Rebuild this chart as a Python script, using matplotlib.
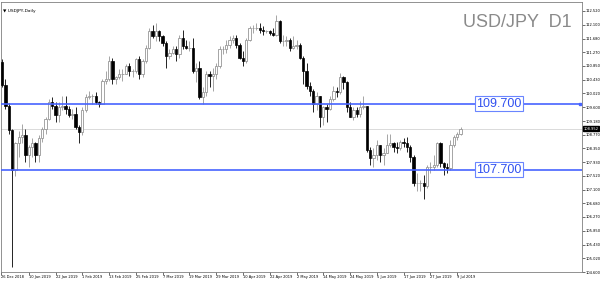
import numpy as np
import matplotlib.pyplot as plt

# USDJPY daily, 28 Dec 2018 .. 10 Jul 2019 (bar index = trading day)
opens = [110.98, 110.28, 109.65, 108.90, 107.70, 108.50, 108.70, 108.75, 108.15, 108.40,
         108.50, 108.15, 108.65, 108.95, 109.25, 109.75, 109.65, 109.35, 109.60, 109.65,
         109.55, 109.35, 109.40, 109.00, 108.85, 109.50, 109.90, 109.95, 109.95, 109.75,
         109.70, 110.40, 110.45, 111.00, 110.45, 110.50, 110.60, 110.60, 110.85, 110.70,
         110.70, 111.05, 110.60, 111.00, 111.40, 111.90, 111.75, 111.90, 111.75, 111.55,
         111.15, 111.25, 111.35, 111.20, 111.70, 111.45, 111.40, 111.40, 110.70, 110.80,
         109.90, 110.05, 110.60, 110.55, 110.60, 110.85, 111.35, 111.35, 111.50, 111.65,
         111.70, 111.50, 111.10, 111.00, 111.65, 112.00, 112.00, 112.00, 111.95, 111.90,
         111.90, 111.85, 111.80, 112.20, 111.60, 111.60, 111.65, 111.40, 111.45, 111.50,
         111.10, 110.70, 110.25, 110.10, 109.70, 109.95, 109.30, 109.60, 109.55, 109.85,
         110.10, 110.05, 110.50, 110.35, 109.60, 109.30, 109.50, 109.40, 109.60, 109.65,
         108.30, 108.05, 108.15, 108.45, 108.15, 108.20, 108.45, 108.50, 108.40, 108.35,
         108.55, 108.50, 108.40, 108.10, 107.30, 107.30, 107.30, 107.20, 107.80, 107.80,
         107.85, 108.50, 107.90, 107.80, 107.75, 108.45, 108.70, 108.80]
highs = [111.05, 110.45, 109.72, 108.95, 108.55, 108.88, 109.10, 108.95, 108.45, 108.65,
         108.55, 108.75, 109.00, 109.30, 109.85, 109.90, 109.75, 109.75, 109.95, 109.95,
         109.65, 109.55, 109.60, 109.05, 109.60, 110.00, 110.10, 110.00, 110.05, 109.80,
         110.45, 110.70, 111.15, 111.10, 110.55, 110.75, 110.75, 110.90, 110.95, 110.75,
         111.10, 111.15, 111.05, 111.50, 112.00, 112.10, 112.15, 111.95, 111.80, 111.60,
         111.35, 111.45, 111.45, 111.80, 111.95, 111.65, 111.60, 111.70, 110.95, 111.00,
         110.20, 110.70, 110.70, 110.80, 110.95, 111.45, 111.45, 111.65, 111.75, 111.80,
         111.80, 111.55, 111.30, 111.70, 112.05, 112.10, 112.15, 112.15, 112.05, 111.95,
         111.95, 112.00, 112.40, 112.25, 111.80, 111.75, 111.70, 111.75, 111.65, 111.55,
         111.15, 110.95, 110.35, 110.15, 110.05, 109.95, 109.65, 109.70, 109.95, 110.25,
         110.20, 110.65, 110.55, 110.40, 109.75, 109.60, 109.60, 109.80, 109.95, 109.65,
         108.40, 108.35, 108.60, 108.45, 108.35, 108.80, 108.80, 108.55, 108.55, 108.60,
         108.65, 108.70, 108.45, 108.15, 107.60, 107.40, 107.55, 107.85, 107.95, 108.15,
         108.55, 108.55, 107.95, 107.90, 108.60, 108.75, 108.85, 108.99]
lows = [110.20, 109.55, 108.80, 104.75, 107.50, 108.10, 108.50, 107.95, 107.78, 108.10,
        107.95, 107.95, 108.55, 108.80, 109.20, 109.55, 109.15, 109.15, 109.50, 109.40,
        109.30, 109.25, 108.95, 108.50, 108.75, 109.45, 109.85, 109.70, 109.70, 109.60,
        109.70, 110.30, 110.40, 110.30, 110.30, 110.45, 110.40, 110.60, 110.55, 110.50,
        110.65, 110.45, 110.50, 110.95, 111.35, 111.70, 111.60, 111.60, 111.45, 110.80,
        111.05, 111.20, 111.00, 111.10, 111.35, 111.35, 111.30, 110.65, 110.35, 109.85,
        109.70, 109.95, 110.20, 110.10, 110.45, 110.80, 111.20, 111.25, 111.40, 111.55,
        111.40, 111.05, 110.85, 110.95, 111.60, 111.85, 111.95, 111.85, 111.80, 111.85,
        111.80, 111.75, 111.75, 111.55, 111.45, 111.45, 111.30, 111.35, 111.35, 111.05,
        110.30, 110.15, 109.95, 109.45, 109.50, 109.00, 109.05, 109.15, 109.50, 109.80,
        109.90, 110.00, 110.15, 109.45, 109.30, 109.20, 109.30, 109.30, 109.55, 108.25,
        107.85, 107.80, 108.00, 107.95, 107.85, 108.20, 108.40, 108.25, 108.20, 108.30,
        108.40, 108.25, 107.95, 107.20, 107.05, 107.05, 106.80, 107.15, 107.60, 107.70,
        107.80, 107.80, 107.55, 107.60, 107.70, 108.40, 108.60, 108.75]
closes = opens[1:] + [108.95]

tick_idx = [-0.3, 8, 16, 24, 32, 40, 48, 56, 64, 72, 80, 88, 96, 104, 112, 120, 128, 136]
tick_dates = ['26 Dec 2018', '10 Jan 2019', '22 Jan 2019', '1 Feb 2019', '13 Feb 2019',
              '25 Feb 2019', '7 Mar 2019', '19 Mar 2019', '29 Mar 2019', '10 Apr 2019',
              '22 Apr 2019', '2 May 2019', '14 May 2019', '24 May 2019', '5 Jun 2019',
              '17 Jun 2019', '27 Jun 2019', '9 Jul 2019']
price_ticks = [112.520, 112.100, 111.680, 111.270, 110.850, 110.430, 110.020, 109.600,
               109.180, 108.770, 108.350, 107.930, 107.520, 107.100, 106.680, 106.270,
               105.850, 105.430, 105.020, 104.600]
levels = [109.700, 107.700]
last_price = 108.952

o = np.array(opens); h = np.array(highs); l = np.array(lows); c = np.array(closes)
x = np.arange(len(o))
up = c >= o

fig = plt.figure(figsize=(6, 2.81), dpi=100)
ax = fig.add_axes([1/600, 1 - 272/281, 581/600, 270/281])

gray = '#969696'
ax.vlines(x[up], l[up], h[up], color=gray, lw=0.6, zorder=2)
ax.vlines(x[~up], l[~up], h[~up], color='black', lw=0.6, zorder=2)
ax.bar(x[up], c[up] - o[up], bottom=o[up], width=0.7, color='white',
       edgecolor=gray, lw=0.6, zorder=3)
ax.bar(x[~up], o[~up] - c[~up], bottom=c[~up], width=0.7, color='black',
       edgecolor='black', lw=0.5, zorder=3)

# current price line
ax.axhline(last_price, color='#d4d4d4', lw=0.6, zorder=1)

# support / resistance
blue = '#4763ff'
for lv in levels:
    ax.axhline(lv, color=blue, lw=1.2, zorder=4)
    ax.text(0.8185, lv, f'{lv:.3f}', transform=ax.get_yaxis_transform(),
            ha='left', va='center', fontsize=9, color='#3050f0',
            family='Liberation Sans', zorder=5,
            bbox=dict(boxstyle='square,pad=0.12', facecolor='white',
                      edgecolor='#6a85ff', lw=0.8))
ax.plot([0.997], [levels[0]], 's', ms=2, color=blue, transform=ax.get_yaxis_transform(),
        clip_on=False, zorder=5)

ax.text(0.983, 1 - 25/270, 'USD/JPY  D1', transform=ax.transAxes, ha='right',
        va='baseline', fontsize=13, color='#8a8a8a', family='Liberation Sans')
ax.text(0.004, 0.975, '▼ USDJPY,Daily', transform=ax.transAxes, ha='left',
        va='top', fontsize=3.2, color='black')

ax.set_xlim(-0.3, 173.3)
ax.set_ylim(104.60, 112.79)

ax.yaxis.tick_right()
ax.set_yticks(price_ticks)
ax.set_yticklabels([f'{v:.3f}' for v in price_ticks])
ax.set_xticks(tick_idx)
ax.set_xticklabels(tick_dates, ha='left')
ax.tick_params(axis='both', labelsize=2.6, length=2, width=0.4, pad=0.8, colors='black')
ax.tick_params(axis='x', pad=0.5)

ax.text(1.003, last_price, f'{last_price:.3f}', transform=ax.get_yaxis_transform(),
        ha='left', va='center', fontsize=2.6, color='white',
        bbox=dict(boxstyle='square,pad=0.15', facecolor='black', edgecolor='black'))

for s in ax.spines.values():
    s.set_color('#808080')
    s.set_linewidth(0.6)

fig.savefig('out.png', dpi=100)
